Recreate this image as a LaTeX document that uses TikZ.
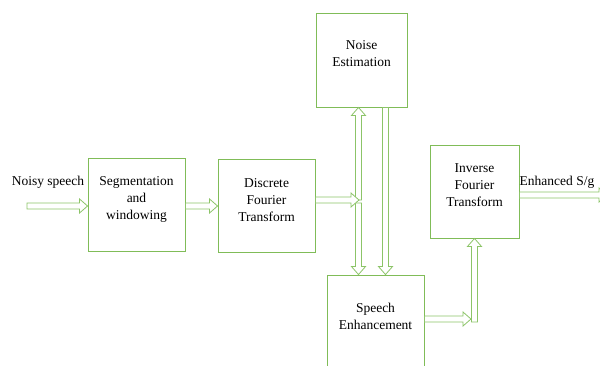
\documentclass[tikz,border=0pt]{standalone}
\usepackage{fontspec}
\setmainfont{Liberation Serif}
\usetikzlibrary{calc}

\definecolor{boxgreen}{RGB}{128,188,88}
\definecolor{arrowgreen}{RGB}{140,196,104}

\tikzset{
  blockbox/.style={draw=boxgreen, line width=0.9pt, rectangle, inner sep=0pt},
  txt/.style={font=\fontsize{13.5}{17}\selectfont, align=center, inner sep=0pt},
  % hollow block arrow drawn as an outline polygon from start to target
  blk/.style={draw=arrowgreen, fill=white, line width=0.8pt, line join=miter,
    to path={
      let \p1=(\tikztostart), \p2=(\tikztotarget),
          \n1={atan2(\y2-\y1,\x2-\x1)},
          \n2={veclen(\x2-\x1,\y2-\y1)}
      in ([shift={(\p1)},rotate=\n1]0pt,-3pt)
      -- ([shift={(\p1)},rotate=\n1]\n2-8pt,-3pt)
      -- ([shift={(\p1)},rotate=\n1]\n2-8pt,-7pt)
      -- ([shift={(\p1)},rotate=\n1]\n2,0pt)
      -- ([shift={(\p1)},rotate=\n1]\n2-8pt,7pt)
      -- ([shift={(\p1)},rotate=\n1]\n2-8pt,3pt)
      -- ([shift={(\p1)},rotate=\n1]0pt,3pt) -- cycle
    }}
}

\begin{document}
\begin{tikzpicture}[x=1pt,y=-1pt]
\useasboundingbox (0,0) rectangle (600,365);

% processing blocks
\node[blockbox, minimum width=97pt, minimum height=93pt] (seg)   at (136.5,205) {};
\node[blockbox, minimum width=97pt, minimum height=93pt] (dft)   at (266.5,206) {};
\node[blockbox, minimum width=91pt, minimum height=94pt] (noise) at (361.5,60) {};
\node[blockbox, minimum width=97pt, minimum height=96pt] (sp)    at (375.5,323) {};
\node[blockbox, minimum width=89pt, minimum height=93pt] (ift)   at (474.5,191.5) {};

% block captions
\node[txt] (segt)   at ([yshift=5.5pt]seg.center)   {Segmentation\\and\\windowing};
\node[txt] (dftt)   at ([yshift=6pt]dft.center)     {Discrete\\Fourier\\Transform};
\node[txt] (noiset) at ([yshift=6pt]noise.center)   {Noise\\Estimation};
\node[txt] (spt)    at ([yshift=7pt]sp.center)      {Speech\\Enhancement};
\node[txt] (iftt)   at ([yshift=6pt]ift.center)     {Inverse\\Fourier\\Transform};

% signal labels
\node[txt] (inlbl)  at (48,182)  {Noisy speech};
\node[txt] (outlbl) at (557,182) {Enhanced S/g};

% connector end points
\coordinate (in)  at (27,206);
\coordinate (j)   at (358.5,200);
\coordinate (k)   at (474.5,319);
\coordinate (out) at (607,195);

% arrows
\path[blk] (in) to (seg.west |- in);
\path[blk] (seg.east |- 0,206) to (dft.west |- 0,206);
\path[blk] (j) to (j |- noise.south);
\path[blk] ([yshift=-3pt]j) to (j |- sp.north);
\path[blk] (dft.east |- j) to ([xshift=0.5pt]j);
\path[blk] ([xshift=24pt]noise.south) to ([xshift=24pt]noise.south |- sp.north);
\path[blk] ([yshift=-3pt]k) to (ift.south);
\path[blk] (sp.east |- k) to ([xshift=-3.5pt]k);
\path[blk] ([yshift=-3.5pt]ift.east) to (out);
\end{tikzpicture}
\end{document}
